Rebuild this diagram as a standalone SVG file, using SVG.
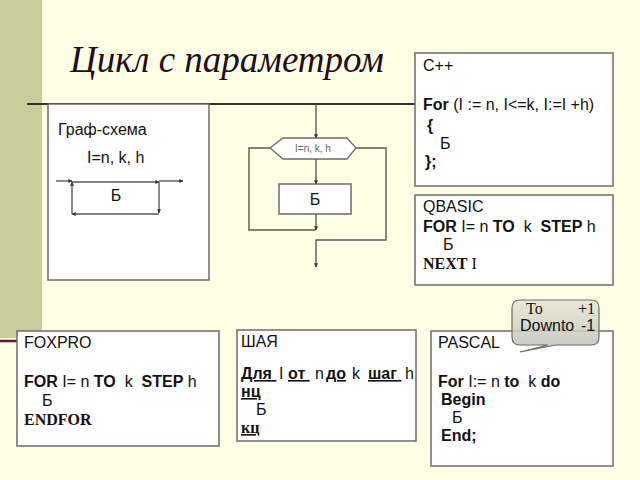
<svg xmlns="http://www.w3.org/2000/svg" width="640" height="480" viewBox="0 0 640 480">
<defs>
<marker id="ar" viewBox="0 0 6 6" refX="5.5" refY="3" markerWidth="4" markerHeight="4" orient="auto" markerUnits="userSpaceOnUse"><path d="M0,0 L6,3 L0,6 Z" fill="#333"/></marker>
<linearGradient id="cg" x1="0" y1="0" x2="0" y2="1"><stop offset="0" stop-color="#E6E6D6"/><stop offset="1" stop-color="#BDBDB9"/></linearGradient>
<style>
.bx{fill:#fff;stroke:#6b6b6b;stroke-width:1.5}
.ln{fill:none;stroke:#5a5a52;stroke-width:1.4}
.t{font-family:"Liberation Sans",Arial,sans-serif;font-size:16px;fill:#111}
.s{font-family:"Liberation Serif","Times New Roman",serif;font-size:16px;fill:#111}
.b{font-weight:bold}
.u{text-decoration:underline}
</style>
</defs>
<rect width="640" height="480" fill="#FFFFE5"/>
<rect x="0" y="0" width="42" height="338" fill="#CBCB9B"/>
<line x1="0" y1="341" x2="100" y2="341" stroke="#5C1A33" stroke-width="2.5"/>
<line x1="27" y1="104" x2="416" y2="104" stroke="#333" stroke-width="2"/>
<text x="70" y="72" font-family="'Liberation Serif','Times New Roman',serif" font-style="italic" font-size="37" fill="#200A20">Цикл с параметром</text>

<g id="graph-scheme">
<rect class="bx" x="48" y="104" width="161" height="176"/>
<text class="t" x="58" y="135">Граф-схема</text>
<text class="t" x="87" y="163">I=n, k, h</text>
<text class="t" x="116" y="201" text-anchor="middle">Б</text>
</g>

<g id="flowchart">
<polygon points="270,148 283,138 347,138 356,148 347,159 283,159" fill="#fff" stroke="#6b6b6b" stroke-width="1.3"/>
<text x="313" y="152" text-anchor="middle" font-family="'Liberation Sans',Arial,sans-serif" font-size="10" fill="#666">I=n, k, h</text>
<rect class="bx" x="279" y="184" width="72" height="30"/>
<text class="t" x="315" y="205" text-anchor="middle">Б</text>
</g>

<g id="cpp">
<rect class="bx" x="415" y="53" width="198" height="133"/>
<text class="t" x="423" y="71">C++</text>
<text class="t" x="423" y="110"><tspan class="b">For</tspan> (I := n, I&lt;=k, I:=I +h)</text>
<text class="t b" x="427" y="131">{</text>
<text class="t" x="440" y="149">Б</text>
<text class="t b" x="425" y="167">};</text>
</g>

<g id="qbasic">
<rect class="bx" x="415" y="195" width="198" height="90"/>
<text class="t" x="423" y="212">QBASIC</text>
<text class="t" x="423" y="232" xml:space="preserve"><tspan class="b">FOR</tspan> I= n <tspan class="b">TO</tspan>  k  <tspan class="b">STEP</tspan> h</text>
<text class="t" x="443" y="250">Б</text>
<text class="s" x="423" y="269"><tspan class="b">NEXT</tspan> I</text>
</g>

<g id="foxpro">
<rect class="bx" x="17" y="331" width="202" height="115"/>
<text class="t" x="24" y="348">FOXPRO</text>
<text class="t" x="24" y="387" xml:space="preserve"><tspan class="b">FOR</tspan> I= n <tspan class="b">TO</tspan>  k  <tspan class="b">STEP</tspan> h</text>
<text class="t" x="42" y="406">Б</text>
<text class="s b" x="24" y="425">ENDFOR</text>
</g>

<g id="shaya">
<rect class="bx" x="237" y="330" width="179" height="111"/>
<text class="t" x="241" y="347" font-size="13">ШАЯ</text>
<g class="t" font-size="13">
<text class="b u" x="241" y="379">Для&#160;</text>
<text x="279" y="379">I</text>
<text class="b u" x="288" y="379">от&#160;</text>
<text x="315" y="379">n</text>
<text class="b u" x="326" y="379">до</text>
<text x="352" y="379">k</text>
<text class="b u" x="368" y="379">шаг&#160;</text>
<text x="405" y="379">h</text>
<text class="b u" x="241" y="397">нц</text>
<text x="256" y="415">Б</text>
</g>
<text class="s b u" x="241" y="433" font-size="13">кц</text>
</g>

<g id="pascal">
<rect class="bx" x="431" y="331" width="182" height="135"/>
<text class="t" x="438" y="348">PASCAL</text>
<text class="t" x="438" y="387" xml:space="preserve"><tspan class="b">For</tspan> I:= n <tspan class="b">to</tspan>  k <tspan class="b">do</tspan></text>
<text class="t b" x="441" y="405">Begin</text>
<text class="t" x="452" y="423">Б</text>
<text class="t b" x="441" y="441">End;</text>
</g>

<g id="callout">
<path d="M520,300 H591 Q599,300 599,308 V337 Q599,345 591,345 H556 L520,352 L548,345 H520 Q512,345 512,337 V308 Q512,300 520,300 Z" fill="url(#cg)" fill-opacity="0.85" stroke="#6b6b6b" stroke-width="1.2"/>
<text class="s" x="526" y="314" font-size="11">To</text>
<text class="s" x="578" y="314" font-size="11">+1</text>
<text class="t" x="520" y="331" font-size="11.5">Downto</text>
<text class="t" x="581" y="331" font-size="11.5">-1</text>
</g>

<g id="connectors">
<line class="ln" x1="56" y1="181" x2="72" y2="181" marker-end="url(#ar)"/>
<line class="ln" x1="72" y1="182" x2="159" y2="182" marker-end="url(#ar)"/>
<line class="ln" x1="159" y1="182" x2="159" y2="213" marker-end="url(#ar)"/>
<line class="ln" x1="159" y1="214" x2="72" y2="214" marker-end="url(#ar)"/>
<line class="ln" x1="72" y1="214" x2="72" y2="182" marker-end="url(#ar)"/>
<line class="ln" x1="159" y1="181" x2="183" y2="181" marker-end="url(#ar)"/>
<line class="ln" x1="316" y1="104" x2="316" y2="138" marker-end="url(#ar)"/>
<line class="ln" x1="316" y1="159" x2="316" y2="184" marker-end="url(#ar)"/>
<line class="ln" x1="316" y1="214" x2="316" y2="230" marker-end="url(#ar)"/>
<polyline class="ln" points="270,148 249,148 249,230 316,230"/>
<polyline class="ln" points="356,148 386,148 386,240 316,240 316,267" marker-end="url(#ar)"/>
</g>
</svg>
